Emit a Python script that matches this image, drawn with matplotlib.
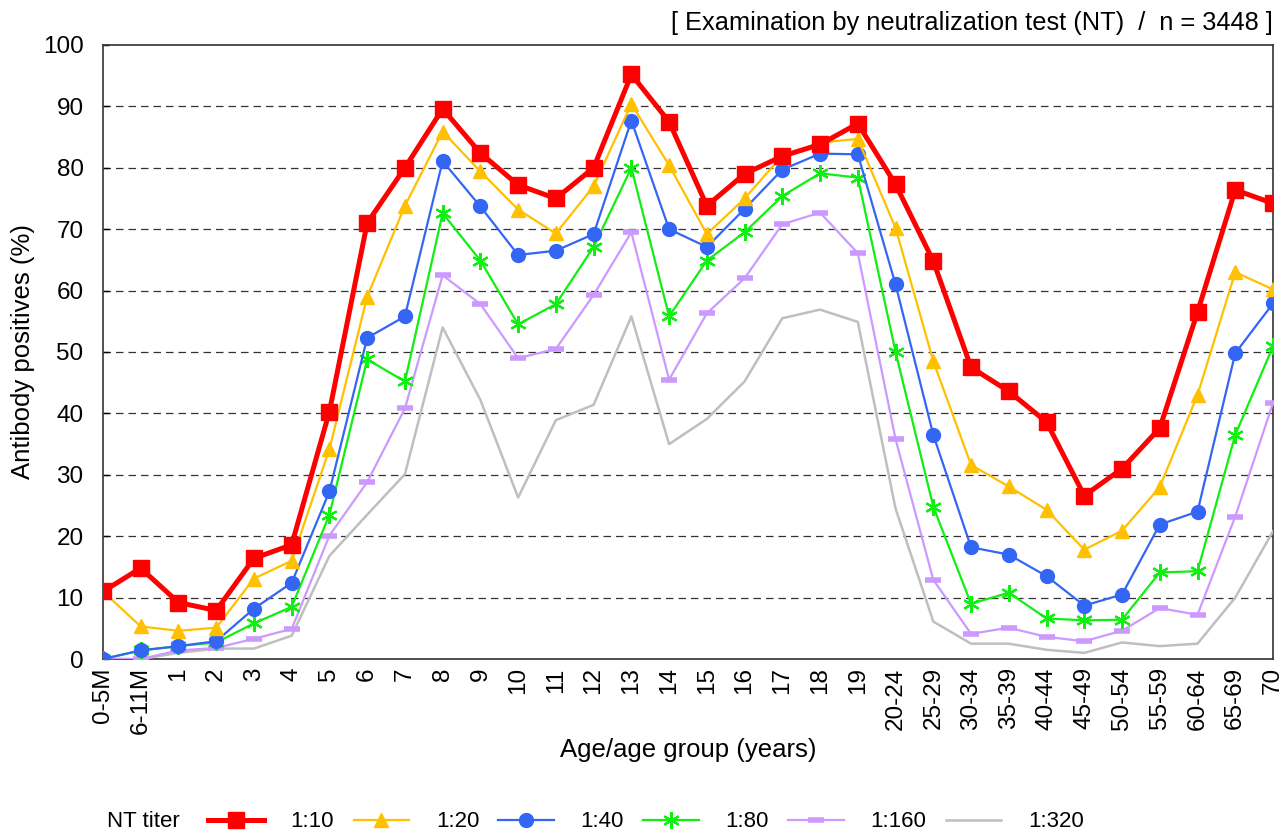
import matplotlib.pyplot as plt
from matplotlib.markers import MarkerStyle

plt.rcParams['font.family'] = ['Liberation Sans', 'DejaVu Sans']

ages = ["0-5M", "6-11M", "1", "2", "3", "4", "5", "6", "7", "8", "9", "10",
        "11", "12", "13", "14", "15", "16", "17", "18", "19",
        "20-24", "25-29", "30-34", "35-39", "40-44", "45-49", "50-54",
        "55-59", "60-64", "65-69", "70"]

nt10 = [11.0, 14.8, 9.2, 7.9, 16.4, 18.6, 40.3, 71.0, 80.0, 89.6, 82.4, 77.2,
        75.0, 80.0, 95.2, 87.5, 73.8, 79.0, 81.9, 83.8, 87.2,
        77.3, 64.8, 47.5, 43.6, 38.6, 26.6, 31.0, 37.6, 56.5, 76.4, 74.2]
nt20 = [11.0, 5.3, 4.6, 5.1, 13.1, 16.0, 34.2, 59.0, 73.8, 85.9, 79.4, 73.2,
        69.3, 77.0, 90.4, 80.4, 69.2, 75.0, 82.0, 84.1, 84.7,
        70.2, 48.5, 31.6, 28.1, 24.3, 17.8, 20.9, 28.0, 43.0, 63.0, 60.2]
nt40 = [0.0, 1.4, 2.1, 2.9, 8.2, 12.4, 27.3, 52.3, 55.8, 81.1, 73.7, 65.8,
        66.5, 69.2, 87.7, 70.0, 67.1, 73.3, 79.7, 82.3, 82.2,
        61.0, 36.5, 18.2, 17.0, 13.5, 8.7, 10.5, 21.9, 24.0, 49.8, 57.9]
nt80 = [0.0, 1.4, 2.1, 2.7, 5.8, 8.5, 23.5, 48.8, 45.2, 72.6, 64.9, 54.5,
        57.8, 67.1, 80.0, 55.8, 64.9, 69.5, 75.4, 79.1, 78.4,
        50.0, 24.8, 9.0, 10.8, 6.6, 6.3, 6.4, 14.1, 14.3, 36.5, 50.9]
nt160 = [0.0, 0.0, 1.4, 1.8, 3.3, 4.9, 20.1, 28.8, 40.8, 62.5, 57.8, 49.0,
         50.5, 59.3, 69.5, 45.5, 56.3, 62.0, 70.8, 72.7, 66.1,
         35.8, 12.9, 4.1, 5.1, 3.6, 2.9, 4.6, 8.3, 7.2, 23.2, 41.7]
nt320 = [0.0, 0.0, 1.0, 1.7, 1.7, 3.8, 16.8, 23.5, 30.1, 54.0, 42.2, 26.3,
         38.9, 41.4, 55.8, 35.0, 39.1, 45.2, 55.5, 56.9, 54.9,
         24.5, 6.1, 2.5, 2.5, 1.5, 1.0, 2.7, 2.1, 2.5, 10.0, 20.8]

x = list(range(len(ages)))

fig = plt.figure(figsize=(12.79, 8.36), dpi=100)
ax = fig.add_axes([0.0805, 0.2117, 0.9148, 0.7345])

ax.plot(x, nt10, color="#FF0000", lw=3.6, marker="s", ms=12, label="1:10", zorder=8)
ax.plot(x, nt20, color="#FFC000", lw=1.6, marker="^", ms=10.5, label="1:20", zorder=7)
ax.plot(x, nt40, color="#3366F5", lw=1.6, marker="o", ms=10, label="1:40", zorder=6)
ax.plot(x, nt80, color="#11EE11", lw=1.6, marker=MarkerStyle((6, 2, 0)), ms=12,
        mew=1.6, label="1:80", zorder=5)
ax.plot(x, nt160, color="#CC99FF", lw=1.6, marker="_", ms=12, mew=4,
        label="1:160", zorder=4)
ax.plot(x, nt320, color="#BFBFBF", lw=1.8, label="1:320", zorder=3)

ax.set_xlim(0, len(ages) - 1)
ax.set_ylim(0, 100)
ax.set_yticks(range(0, 101, 10))
ax.set_xticks(x)
ax.set_xticklabels(ages, rotation=90, fontsize=17.5)
ax.tick_params(axis="y", labelsize=17.5, direction="in", length=4, width=1, pad=14)
ax.tick_params(axis="x", length=0, pad=6)
for v in range(10, 100, 10):
    ax.axhline(v, color="#333333", lw=0.9, ls=(0, (6, 4)), zorder=1)
for s in ax.spines.values():
    s.set_color("#333333")
    s.set_linewidth(1.2)

ax.set_ylabel("Antibody positives (%)", fontsize=18.5)
ax.yaxis.set_label_coords(-0.058, 0.5)
ax.set_xlabel("Age/age group (years)", fontsize=18.5)
ax.xaxis.set_label_coords(0.5, -0.128)

fig.text(0.995, 0.973, "[ Examination by neutralization test (NT)  /  n = 3448 ]",
         ha="right", va="center", fontsize=18.3)

fig.text(0.084, 0.017, "NT titer", ha="left", va="center", fontsize=16)
fig.legend(loc="center left", bbox_to_anchor=(0.163, 0.017), ncol=6, frameon=False,
           fontsize=16, handlelength=2.5, handletextpad=1.2, columnspacing=0.87,
           borderpad=0, borderaxespad=0)

fig.savefig("out.png", dpi=100)
